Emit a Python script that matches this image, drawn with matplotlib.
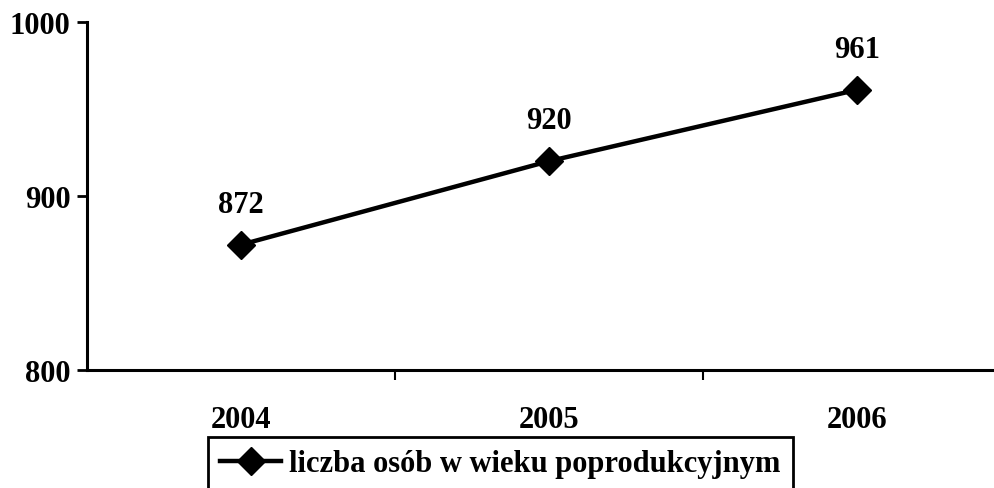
import matplotlib
matplotlib.use("Agg")
import matplotlib.pyplot as plt

years = ["2004", "2005", "2006"]
values = [872, 920, 961]
series_name = "liczba osób w wieku poprodukcyjnym"
y_ticks = [800, 900, 1000]

plt.rcParams["font.family"] = ["Liberation Serif", "DejaVu Serif"]
plt.rcParams["font.weight"] = "bold"

fig = plt.figure(figsize=(9.95, 4.89), dpi=100)
ax = fig.add_axes([0.0874, 0.2413, 0.9286, 0.7117])

x = list(range(len(years)))
ax.plot(x, values, color="black", lw=3.2, marker="D", ms=14, label=series_name,
        clip_on=False)

# data labels above the points
for xi, v in zip(x, values):
    ax.annotate(str(v), (xi, v), xytext=(0, 29), textcoords="offset points",
                ha="center", va="center", fontsize=22, fontweight="bold")

ax.set_xlim(-0.5, 2.5)
ax.set_ylim(800, 1000)
ax.set_yticks(y_ticks)
ax.set_yticklabels([str(t) for t in y_ticks], fontsize=22, fontweight="bold")

# category labels in the middle, tick marks on the boundaries
ax.set_xticks(x)
ax.set_xticklabels(years, fontsize=22, fontweight="bold")
ax.set_xticks([0.5, 1.5], minor=True)
ax.tick_params(axis="x", which="major", length=0, pad=25)
ax.tick_params(axis="x", which="minor", length=7, width=1.5, direction="out")
ax.tick_params(axis="y", length=7, width=2, direction="out", pad=5)

for s in ["top", "right"]:
    ax.spines[s].set_visible(False)
for s in ["left", "bottom"]:
    ax.spines[s].set_linewidth(2.2)

leg = fig.legend(loc="lower left", bbox_to_anchor=(0.209, -0.005),
                 prop={"size": 22, "weight": "bold"}, frameon=True,
                 fancybox=False, edgecolor="black", framealpha=1,
                 handlelength=2.0, handletextpad=0.25, borderpad=0.4,
                 borderaxespad=0)
leg.get_frame().set_linewidth(2)

fig.savefig("out.png", dpi=100)
